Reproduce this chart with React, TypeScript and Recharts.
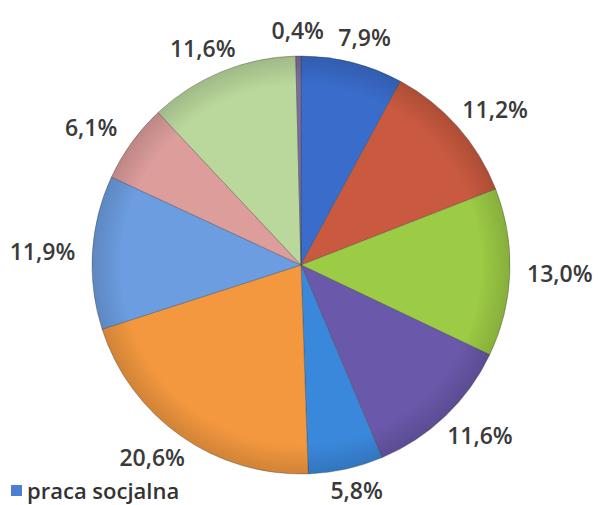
import { PieChart, Pie, Cell, Legend } from "recharts";

const categories = [
  "praca socjalna",
  "kat. 2",
  "kat. 3",
  "kat. 4",
  "kat. 5",
  "kat. 6",
  "kat. 7",
  "kat. 8",
  "kat. 9",
  "kat. 10",
];
const shares = [7.9, 11.2, 13.0, 11.6, 5.8, 20.6, 11.9, 6.1, 11.6, 0.4];
const labels = ["7,9%", "11,2%", "13,0%", "11,6%", "5,8%", "20,6%", "11,9%", "6,1%", "11,6%", "0,4%"];

const COLORS = [
  "#3a6ccb",
  "#c95a3f",
  "#9ccb45",
  "#6a58aa",
  "#3a88dc",
  "#f3983f",
  "#6c9de0",
  "#dc9d9b",
  "#bad89c",
  "#7c6e9c",
];

const data = categories.map((name, i) => ({ name, value: shares[i], label: labels[i] }));
const rim = [{ name: "rim", value: 1 }];

const RADIAN = Math.PI / 180;
const FONT = "'Open Sans', Lato, sans-serif";

const renderLabel = (props: any) => {
  const { cx, cy, midAngle, outerRadius, index } = props;
  const r = outerRadius + 14;
  const cos = Math.cos(-midAngle * RADIAN);
  const sin = Math.sin(-midAngle * RADIAN);
  const w = 72;
  const h = 24;
  const x = cx + r * cos + (w / 2) * cos;
  let y = cy + r * sin + (h / 2) * sin;
  if (y > 490) y = 490;
  return (
    <text
      x={x}
      y={y}
      textAnchor="middle"
      dominantBaseline="central"
      fill="#3a3a3a"
      fontSize={23}
      fontWeight={600}
      fontFamily={FONT}
    >
      {data[index].label}
    </text>
  );
};

const renderLegend = (props: any) => {
  const first = (props.payload || []).find((p: any) => p.value === categories[0]);
  if (!first) return null;
  return (
    <div
      style={{
        display: "flex",
        alignItems: "center",
        fontFamily: FONT,
        fontSize: 22,
        fontWeight: 600,
        color: "#333",
        whiteSpace: "nowrap",
        lineHeight: "22px",
      }}
    >
      <span
        style={{
          display: "inline-block",
          width: 11,
          height: 11,
          background: "#4a7fd3",
          marginRight: 5,
        }}
      />
      {first.value}
    </div>
  );
};

export default function App() {
  return (
    <div style={{ position: "absolute", left: 0, top: 0, width: 598, height: 505, background: "#fff" }}>
      <PieChart width={598} height={505} margin={{ top: 0, right: 0, bottom: 0, left: 0 }}>
        <defs>
          <radialGradient id="rimShade" gradientUnits="userSpaceOnUse" cx={301} cy={265} r={209}>
            <stop offset="0%" stopColor="#000" stopOpacity={0} />
            <stop offset="86%" stopColor="#000" stopOpacity={0} />
            <stop offset="100%" stopColor="#000" stopOpacity={0.14} />
          </radialGradient>
        </defs>
        <Pie
          data={data}
          dataKey="value"
          nameKey="name"
          cx={301}
          cy={265}
          outerRadius={209}
          startAngle={90}
          endAngle={-270}
          stroke="rgba(60,60,60,0.35)"
          strokeWidth={1}
          label={renderLabel}
          labelLine={false}
          isAnimationActive={false}
        >
          {data.map((entry, index) => (
            <Cell key={`cell-${entry.name}`} fill={COLORS[index % COLORS.length]} />
          ))}
        </Pie>
        <Pie
          data={rim}
          dataKey="value"
          cx={301}
          cy={265}
          outerRadius={209}
          startAngle={90}
          endAngle={-270}
          fill="url(#rimShade)"
          stroke="none"
          legendType="none"
          isAnimationActive={false}
          style={{ pointerEvents: "none" }}
        />
        <Legend
          layout="horizontal"
          align="left"
          verticalAlign="bottom"
          wrapperStyle={{ left: 11, bottom: 4, width: 240 }}
          content={renderLegend}
        />
      </PieChart>
    </div>
  );
}
